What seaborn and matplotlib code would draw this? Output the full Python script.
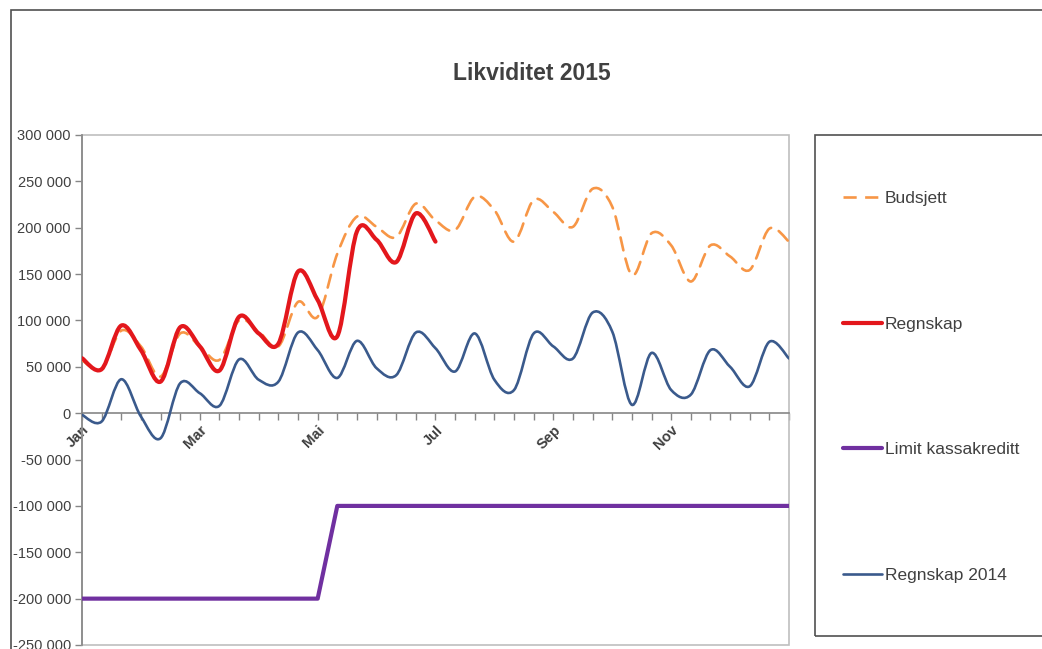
import numpy as np
import matplotlib
matplotlib.use("Agg")
import matplotlib.pyplot as plt
import seaborn as sns
import pandas as pd
from matplotlib.path import Path
from matplotlib.patches import PathPatch, Rectangle
from matplotlib.lines import Line2D
from matplotlib.ticker import FuncFormatter

# Ten-day periods through the year (three per month), 37 points
periods = list(range(37))
month_labels = {0: "Jan", 6: "Mar", 12: "Mai", 18: "Jul", 24: "Sep", 30: "Nov"}

budsjett = [57000, 48000, 89000, 72000, 39500, 86000, 72000, 57500, 100000, 88000,
            72000, 120000, 104000, 172000, 212000, 201000, 190000, 226000, 208000,
            197500, 233500, 219000, 185000, 230000, 217000, 201000, 242000, 222700,
            149000, 194000, 181000, 142000, 181000, 169000, 154500, 199000, 185000]

regnskap = [59300, 47400, 94500, 68000, 34000, 92700, 72000, 46000, 104000, 86000,
            75000, 152700, 122000, 83000, 196000, 187000, 163000, 215500, 185000]

limit_kassekreditt = [-200000] * 13 + [-100000] * 24

regnskap_2014 = [-1800, -9000, 36600, -3600, -27000, 32300, 21500, 8000, 58000, 36000,
                 34000, 87000, 68000, 38000, 78000, 48500, 41000, 87000, 70000,
                 45000, 86000, 36000, 25000, 86000, 72000, 59000, 108500, 88000,
                 9000, 65000, 25000, 20000, 68000, 50000, 29000, 77000, 59000]

c_budsjett = "#F79646"
c_regnskap = "#E3171C"
c_limit = "#7030A0"
c_2014 = "#3A5A8C"
text_col = "#404040"

sns.set_theme(style="white")
plt.rcParams["font.family"] = ["Liberation Sans", "DejaVu Sans"]

W, H = 1042, 649
fig = plt.figure(figsize=(W / 100, H / 100), dpi=100)
fig.patch.set_facecolor("white")

ax = fig.add_axes([82 / W, 1 - 645 / H, (789 - 82) / W, (645 - 135) / H])


def smooth_path(xs, ys):
    """Bezier path through the points, in the style of smoothed office charts."""
    n = len(xs)
    verts = [(xs[0], ys[0])]
    codes = [Path.MOVETO]
    for i in range(n - 1):
        a = i - 1 if i > 0 else i
        d = i + 2 if i + 2 < n else i + 1
        c1 = (xs[i] + (xs[i + 1] - xs[a]) / 6, ys[i] + (ys[i + 1] - ys[a]) / 6)
        c2 = (xs[i + 1] - (xs[d] - xs[i]) / 6, ys[i + 1] - (ys[d] - ys[i]) / 6)
        verts += [c1, c2, (xs[i + 1], ys[i + 1])]
        codes += [Path.CURVE4] * 3
    return Path(verts, codes)


def add_smooth(xs, ys, color, lw, ls="-", z=3):
    patch = PathPatch(smooth_path(xs, ys), fill=False, edgecolor=color, lw=lw,
                      linestyle=ls, capstyle="round", joinstyle="round", zorder=z)
    ax.add_patch(patch)


add_smooth(periods, budsjett, c_budsjett, 1.9, ls=(0, (5, 3.2)), z=3)
add_smooth(periods[:len(regnskap)], regnskap, c_regnskap, 3.0, z=4)

limit_df = pd.DataFrame({"periode": periods, "verdi": limit_kassekreditt})
sns.lineplot(data=limit_df, x="periode", y="verdi", color=c_limit, lw=3.0, ax=ax,
             zorder=3, legend=False)

add_smooth(periods, regnskap_2014, c_2014, 1.9, z=5)

ax.set_xlim(0, 36)
ax.set_ylim(-250000, 300000)
ax.set_xlabel("")
ax.set_ylabel("")

# y axis
ax.set_yticks(np.arange(-250000, 300001, 50000))
ax.yaxis.set_major_formatter(FuncFormatter(lambda v, p: f"{v:,.0f}".replace(",", " ")))
ax.tick_params(axis="y", which="both", left=True, direction="out", length=5, width=1,
               color="#868686", labelsize=10.5, labelcolor=text_col, pad=3)

# x axis sits on the zero line
for side in ["top", "right"]:
    ax.spines[side].set_visible(False)
ax.spines["left"].set_color("#868686")
ax.spines["left"].set_linewidth(1.2)
ax.spines["bottom"].set_position(("data", 0))
ax.spines["bottom"].set_color("#868686")
ax.spines["bottom"].set_linewidth(1.2)
ax.set_xticks(periods)
ax.set_xticklabels([month_labels.get(p, "") for p in periods])
ax.tick_params(axis="x", which="both", bottom=True, direction="out", length=5, width=1,
               color="#868686", labelsize=10.5, labelcolor=text_col, pad=2)
for lab in ax.get_xticklabels():
    lab.set_rotation(45)
    lab.set_rotation_mode("anchor")
    lab.set_ha("right")
    lab.set_va("top")
    lab.set_fontweight("bold")

# plot-area frame
ax.add_patch(Rectangle((0, 0), 1, 1, transform=ax.transAxes, fill=False,
                       edgecolor="#BFBFBF", lw=1.2, zorder=1, clip_on=False))
ax.grid(False)

# chart title
fig.text(532 / W, 1 - 74 / H, "Likviditet 2015", ha="center", va="center",
         fontsize=16.5, fontweight="bold", color=text_col)

# outer chart border
fig.patches.append(Rectangle((11 / W, -0.1), 1.2, 1 - 10 / H + 0.1,
                             transform=fig.transFigure, fill=False,
                             edgecolor="#505050", lw=1.2))

# legend box
fig.patches.append(Rectangle((815 / W, 1 - 636 / H), 0.5, (636 - 135) / H,
                             transform=fig.transFigure, fill=False,
                             edgecolor="#505050", lw=1.2))

handles = [
    Line2D([], [], color=c_budsjett, lw=1.9, ls=(0, (5, 3.2))),
    Line2D([], [], color=c_regnskap, lw=3.0),
    Line2D([], [], color=c_limit, lw=3.0),
    Line2D([], [], color=c_2014, lw=1.9),
]
names = ["Budsjett", "Regnskap", "Limit kassakreditt", "Regnskap 2014"]
leg = fig.legend(handles, names, loc="upper left",
                 bbox_to_anchor=(843 / W, 1 - 191 / H), frameon=False,
                 fontsize=12.5, handlelength=2.25, handletextpad=0.17,
                 labelspacing=6.36, borderaxespad=0, borderpad=0)
for t in leg.get_texts():
    t.set_color(text_col)

fig.savefig("out.png", dpi=100, facecolor="white")
